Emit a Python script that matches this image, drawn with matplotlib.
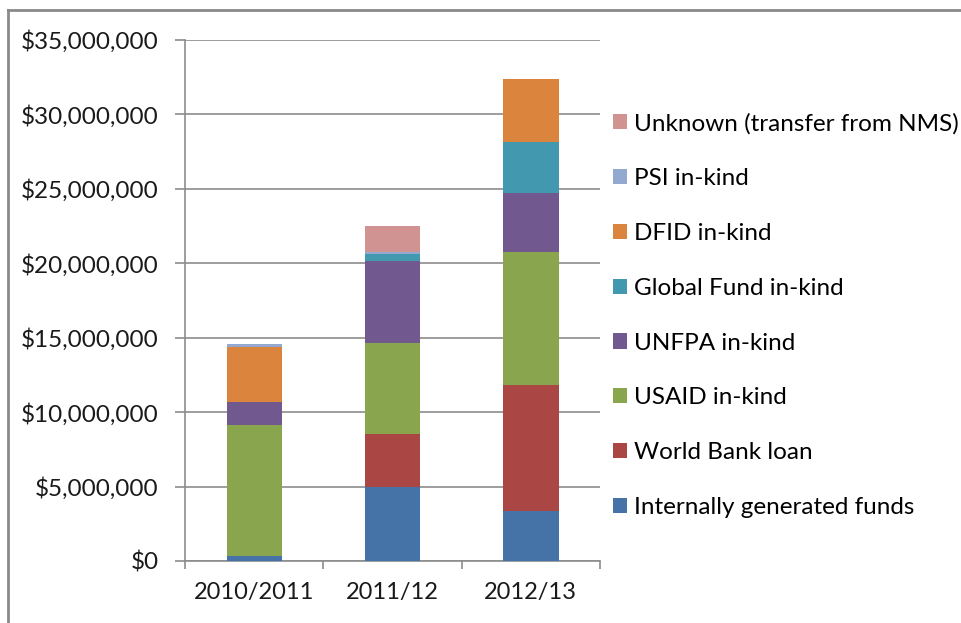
import matplotlib
matplotlib.use("Agg")
import matplotlib.pyplot as plt
from matplotlib.patches import Patch
from matplotlib.lines import Line2D
from matplotlib.ticker import FuncFormatter
import numpy as np

plt.rcParams['font.family'] = ['Lato', 'DejaVu Sans']

years = ["2010/2011", "2011/12", "2012/13"]

# funding sources, bottom to top of each stack (US$)
internal = [360000, 5000000, 3360000]
world_bank = [0, 3560000, 8470000]
usaid = [8780000, 6110000, 8960000]
unfpa = [1570000, 5510000, 3960000]
global_fund = [0, 450000, 3390000]
dfid = [3690000, 0, 4230000]
psi = [180000, 160000, 0]
unknown = [0, 1740000, 0]

series = [
    ("Internally generated funds", internal, "#4572A7"),
    ("World Bank loan", world_bank, "#AA4643"),
    ("USAID in-kind", usaid, "#89A54E"),
    ("UNFPA in-kind", unfpa, "#71588F"),
    ("Global Fund in-kind", global_fund, "#4198AF"),
    ("DFID in-kind", dfid, "#DB843D"),
    ("PSI in-kind", psi, "#93A9CF"),
    ("Unknown (transfer from NMS)", unknown, "#D19392"),
]

W, H = 962, 623
fig = plt.figure(figsize=(W / 100, H / 100), dpi=100)
ax = fig.add_axes([185 / W, (H - 561) / H, (600 - 185) / W, (561 - 40) / H])

x = np.arange(len(years))
bottom = np.zeros(len(years))
for name, vals, col in series:
    ax.bar(x, vals, width=0.4, bottom=bottom, color=col, label=name, zorder=3)
    bottom += np.array(vals)

ax.set_xlim(-0.5, 2.5)
ax.set_ylim(0, 35000000)
ax.set_yticks(np.arange(0, 35000001, 5000000))
ax.yaxis.set_major_formatter(FuncFormatter(lambda v, p: "${:,.0f}".format(v)))
ax.yaxis.grid(True, color="#8c8c8c", linewidth=1.2, zorder=0)

ax.set_xticks(x)
ax.set_xticklabels(years)
ax.set_xticks([-0.5, 0.5, 1.5, 2.5], minor=True)
ax.tick_params(axis="x", which="major", length=0, pad=15, labelsize=17, labelcolor="#1a1a1a")
ax.tick_params(axis="x", which="minor", length=6, width=1.2, color="#8c8c8c", direction="out")
ax.tick_params(axis="y", length=7, width=1.2, color="#8c8c8c", pad=12, labelsize=17.5, labelcolor="#1a1a1a")

for s in ["top", "right"]:
    ax.spines[s].set_visible(False)
for s in ["left", "bottom"]:
    ax.spines[s].set_color("#8c8c8c")
    ax.spines[s].set_linewidth(1.2)

handles = [Patch(facecolor=c, label=n) for n, v, c in series][::-1]
fig.legend(handles=handles, loc="upper left", bbox_to_anchor=(591 / W, 1 - 91 / H),
           frameon=False, fontsize=17.5, labelspacing=1.39,
           handlelength=0.58, handleheight=0.58, handletextpad=0.3)

# outer chart border (top and left edges visible in the crop)
fig.add_artist(Line2D([8 / W, 1], [1 - 10 / H, 1 - 10 / H], transform=fig.transFigure, color="#8a8a8a", linewidth=2))
fig.add_artist(Line2D([8 / W, 8 / W], [0, 1 - 10 / H], transform=fig.transFigure, color="#8a8a8a", linewidth=2))

fig.savefig("out.png", dpi=100)
